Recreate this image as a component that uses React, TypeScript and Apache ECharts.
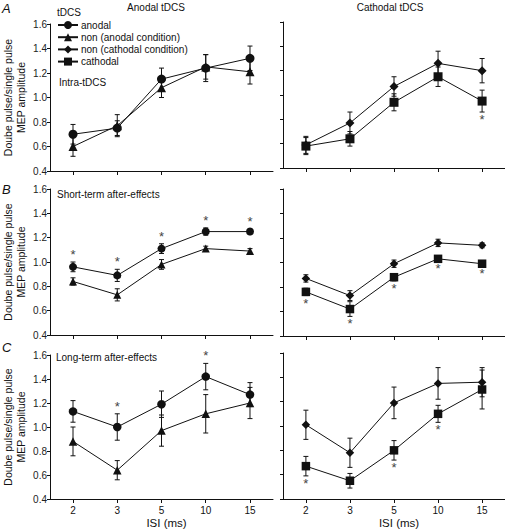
import React, { useEffect, useRef } from "react";
import * as echarts from "echarts";

const isi = ["2", "3", "5", "10", "15"];
const yTicks = [0.4, 0.6, 0.8, 1.0, 1.2, 1.4, 1.6];

// A: Intra-tDCS
const intraAnodal = [0.70, 0.75, 1.15, 1.24, 1.32];
const intraAnodalErr = [0.08, 0.06, 0.09, 0.11, 0.10];
const intraNonAnodal = [0.60, 0.77, 1.08, 1.25, 1.21];
const intraNonAnodalErr = [0.08, 0.09, 0.08, 0.10, 0.10];
const intraCathodal = [0.58, 0.64, 0.94, 1.15, 0.95];
const intraCathodalErr = [0.07, 0.06, 0.07, 0.08, 0.09];
const intraCathodalSig = [0, 0, 0, 0, 1];
const intraNonCathodal = [0.59, 0.77, 1.07, 1.26, 1.20];
const intraNonCathodalErr = [0.07, 0.09, 0.08, 0.10, 0.10];

// B: Short-term after-effects
const shortAnodal = [0.96, 0.89, 1.11, 1.25, 1.25];
const shortAnodalErr = [0.04, 0.05, 0.04, 0.03, 0.02];
const shortAnodalSig = [1, 1, 1, 1, 1];
const shortNonAnodal = [0.84, 0.73, 0.98, 1.11, 1.09];
const shortNonAnodalErr = [0.03, 0.05, 0.04, 0.02, 0.02];
const shortCathodal = [0.76, 0.62, 0.88, 1.03, 0.99];
const shortCathodalErr = [0.03, 0.06, 0.03, 0.02, 0.02];
const shortCathodalSig = [1, 1, 1, 1, 1];
const shortNonCathodal = [0.87, 0.73, 0.99, 1.16, 1.14];
const shortNonCathodalErr = [0.03, 0.04, 0.03, 0.03, 0.02];

// C: Long-term after-effects
const longAnodal = [1.13, 1.00, 1.19, 1.42, 1.27];
const longAnodalErr = [0.09, 0.11, 0.11, 0.11, 0.10];
const longAnodalSig = [0, 1, 0, 1, 0];
const longNonAnodal = [0.88, 0.64, 0.97, 1.11, 1.20];
const longNonAnodalErr = [0.12, 0.08, 0.13, 0.16, 0.13];
const longCathodal = [0.67, 0.55, 0.80, 1.10, 1.30];
const longCathodalErr = [0.08, 0.06, 0.08, 0.07, 0.16];
const longCathodalSig = [1, 0, 1, 1, 0];
const longNonCathodal = [1.01, 0.78, 1.19, 1.35, 1.36];
const longNonCathodalErr = [0.12, 0.12, 0.13, 0.13, 0.12];

const NAME_ANODAL = "anodal";
const NAME_NON_A = "non (anodal condition)";
const NAME_NON_C = "non (cathodal condition)";
const NAME_CATH = "cathodal";

const FONT = "'Liberation Sans', Arial, sans-serif";
const INK = "#111";

const grids = [
  { left: 50, top: 24, width: 223, height: 147 },
  { left: 283, top: 22, width: 222, height: 146 },
  { left: 50, top: 189, width: 223, height: 146 },
  { left: 283, top: 189, width: 222, height: 147 },
  { left: 50, top: 355, width: 223, height: 144 },
  { left: 283, top: 353, width: 222, height: 146 },
];

function makeSeries(
  gi: number,
  name: string,
  symbol: string,
  size: number,
  values: number[],
  errs: number[],
  sig: number[] | null,
  dir: number
) {
  const line = {
    type: "line",
    name,
    xAxisIndex: gi,
    yAxisIndex: gi,
    data: values.map((v, i) => [i, v]),
    symbol,
    symbolSize: size,
    showSymbol: true,
    lineStyle: { color: INK, width: 1 },
    itemStyle: { color: INK, borderWidth: 0 },
    z: 4,
  };
  const err = {
    type: "custom",
    name: name + "-err",
    xAxisIndex: gi,
    yAxisIndex: gi,
    z: 3,
    silent: true,
    data: values.map((v, i) => [i, v, errs[i], sig ? sig[i] : 0]),
    renderItem: (params: any, api: any) => {
      const x = api.value(0);
      const y = api.value(1);
      const e = api.value(2);
      const s = api.value(3);
      const top = api.coord([x, y + e]);
      const bot = api.coord([x, y - e]);
      const cap = 2.5;
      const st = { stroke: INK, lineWidth: 1 };
      const children: any[] = [
        { type: "line", shape: { x1: top[0], y1: top[1], x2: bot[0], y2: bot[1] }, style: st },
        { type: "line", shape: { x1: top[0] - cap, y1: top[1], x2: top[0] + cap, y2: top[1] }, style: st },
        { type: "line", shape: { x1: bot[0] - cap, y1: bot[1], x2: bot[0] + cap, y2: bot[1] }, style: st },
      ];
      if (s) {
        const up = dir > 0;
        children.push({
          type: "text",
          style: {
            text: "*",
            x: top[0],
            y: up ? top[1] - 1 : bot[1] + 1,
            align: "center",
            textAlign: "center",
            verticalAlign: up ? "bottom" : "top",
            textVerticalAlign: up ? "bottom" : "top",
            fill: "#444",
            font: "13px " + FONT,
          },
        });
      }
      return { type: "group", children };
    },
  };
  return [err, line];
}

export default function App() {
  const ref = useRef<HTMLDivElement>(null);
  useEffect(() => {
    if (!ref.current) return;
    const chart = echarts.init(ref.current, undefined, { renderer: "svg" });
    const xAxes = grids.map((g, i) => ({
      type: "value",
      gridIndex: i,
      min: -0.52,
      max: 4.52,
      splitLine: { show: false },
      axisLine: { show: true, onZero: false, lineStyle: { color: INK, width: 1 } },
      axisTick: {
        show: true,
        customValues: [0, 1, 2, 3, 4],
        length: 4,
        lineStyle: { color: INK },
      },
      axisLabel: {
        show: i >= 4,
        customValues: [0, 1, 2, 3, 4],
        formatter: (v: number) => isi[Math.round(v)] ?? "",
        color: INK,
        fontSize: 10,
        fontFamily: FONT,
        margin: 6,
      },
      name: i >= 4 ? "ISI (ms)" : "",
      nameLocation: "middle",
      nameGap: 18,
      nameTextStyle: {
        color: INK,
        fontSize: 11.5,
        fontFamily: FONT,
        padding: [0, 0, 0, 10],
      },
    }));
    const yAxes = grids.map((g, i) => ({
      type: "value",
      gridIndex: i,
      min: 0.4,
      max: 1.6,
      interval: 0.2,
      splitLine: { show: false },
      axisLine: { show: true, onZero: false, lineStyle: { color: INK, width: 1 } },
      axisTick: { show: true, length: 3, lineStyle: { color: INK } },
      axisLabel: {
        show: i % 2 === 0,
        formatter: (v: number) => v.toFixed(1),
        color: "#222",
        fontSize: 10,
        fontFamily: FONT,
        margin: 3,
      },
      name: i % 2 === 0 ? "Doube pulse/single pulse\nMEP amplitude" : "",
      nameLocation: "middle",
      nameRotate: 90,
      nameGap: 22,
      nameTextStyle: {
        color: INK,
        fontSize: 10.5,
        lineHeight: 13.5,
        fontFamily: FONT,
      },
    }));

    const series: any[] = [
      ...makeSeries(0, NAME_ANODAL, "circle", 9, intraAnodal, intraAnodalErr, null, 1),
      ...makeSeries(0, NAME_NON_A, "triangle", 9, intraNonAnodal, intraNonAnodalErr, null, 1),
      ...makeSeries(1, NAME_NON_C, "diamond", 9, intraNonCathodal, intraNonCathodalErr, null, 1),
      ...makeSeries(1, NAME_CATH, "rect", 9, intraCathodal, intraCathodalErr, intraCathodalSig, -1),
      ...makeSeries(2, NAME_ANODAL, "circle", 8, shortAnodal, shortAnodalErr, shortAnodalSig, 1),
      ...makeSeries(2, NAME_NON_A, "triangle", 8, shortNonAnodal, shortNonAnodalErr, null, 1),
      ...makeSeries(3, NAME_NON_C, "diamond", 8.5, shortNonCathodal, shortNonCathodalErr, null, 1),
      ...makeSeries(3, NAME_CATH, "rect", 8.5, shortCathodal, shortCathodalErr, shortCathodalSig, -1),
      ...makeSeries(4, NAME_ANODAL, "circle", 8.5, longAnodal, longAnodalErr, longAnodalSig, 1),
      ...makeSeries(4, NAME_NON_A, "triangle", 8.5, longNonAnodal, longNonAnodalErr, null, 1),
      ...makeSeries(5, NAME_NON_C, "diamond", 8.5, longNonCathodal, longNonCathodalErr, null, 1),
      ...makeSeries(5, NAME_CATH, "rect", 8.5, longCathodal, longCathodalErr, longCathodalSig, -1),
    ];

    const txt = (text: string, x: number, y: number, extra: any = {}) => ({
      type: "text",
      x,
      y,
      silent: true,
      style: {
        text,
        fill: INK,
        font: "10px " + FONT,
        textVerticalAlign: "middle",
        verticalAlign: "middle",
        ...extra,
      },
    });

    chart.setOption({
      animation: false,
      backgroundColor: "#fff",
      textStyle: { fontFamily: FONT },
      grid: grids.map((g) => ({ ...g, containLabel: false })),
      xAxis: xAxes,
      yAxis: yAxes,
      legend: {
        data: [NAME_ANODAL, NAME_NON_A, NAME_NON_C, NAME_CATH],
        orient: "vertical",
        left: 57,
        top: 20,
        padding: 0,
        itemWidth: 20,
        itemHeight: 10,
        itemGap: 2.2,
        selectedMode: false,
        textStyle: { color: INK, fontSize: 10, fontFamily: FONT, padding: [0, 0, 0, -2] },
      },
      graphic: [
        txt("A", 2, 8, { font: "italic 13px " + FONT }),
        txt("B", 2, 189, { font: "italic 13px " + FONT }),
        txt("C", 2, 347, { font: "italic 13px " + FONT }),
        txt("Anodal tDCS", 156, 7, { textAlign: "center", align: "center" }),
        txt("Cathodal tDCS", 390, 7, { textAlign: "center", align: "center" }),
        txt("tDCS", 57, 12),
        txt("Intra-tDCS", 59, 82),
        txt("Short-term after-effects", 57, 194),
        txt("Long-term after-effects", 56, 357),
      ],
      series,
    });
    return () => chart.dispose();
  }, []);
  return (
    <div
      ref={ref}
      style={{ position: "absolute", left: 0, top: 0, width: 505, height: 530 }}
    />
  );
}
